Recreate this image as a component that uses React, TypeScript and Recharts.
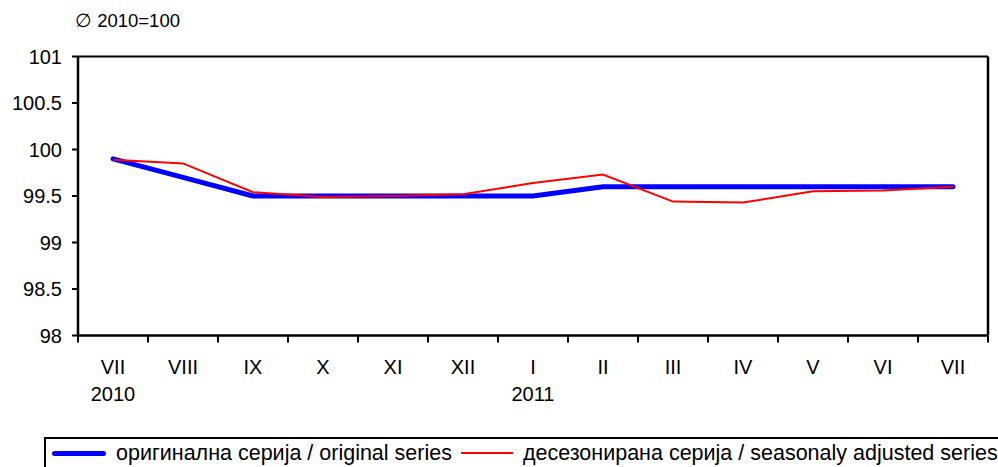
import React from "react";
import { LineChart, Line, XAxis, YAxis, CartesianGrid, ReferenceLine } from "recharts";

const months = ["VII", "VIII", "IX", "X", "XI", "XII", "I", "II", "III", "IV", "V", "VI", "VII"];
const years = ["2010", "", "", "", "", "", "2011", "", "", "", "", "", ""];
const original = [99.9, 99.7, 99.5, 99.5, 99.5, 99.5, 99.5, 99.6, 99.6, 99.6, 99.6, 99.6, 99.6];
const adjusted = [99.89, 99.85, 99.54, 99.49, 99.5, 99.52, 99.64, 99.73, 99.44, 99.43, 99.55, 99.56, 99.6];
const yTicks = [98, 98.5, 99, 99.5, 100, 100.5, 101];
const seriesNames = ["оригинална серија / original series", "десезонирана серија / seasonaly adjusted series"];
const xTicks = months.map((_, i) => i);

const data = months.map((m, i) => ({ x: i, original: original[i], adjusted: adjusted[i] }));

const W = 998;
const H = 467;
const MARGIN = { top: 56.5, right: 0, bottom: 0, left: 0 };
const Y_W = 78;
const R_W = 10;
const PLOT_W = W - MARGIN.left - MARGIN.right - Y_W - R_W;
const HALF = PLOT_W / months.length / 2;
const FONT = "'Liberation Sans', Arial, sans-serif";

const XTick = (props: any) => {
  const { x, y, payload } = props;
  const i = payload.value as number;
  const last = i === months.length - 1;
  return (
    <g>
      <line x1={x - HALF} x2={x - HALF} y1={y} y2={y + 7} stroke="#000" strokeWidth={2} />
      {last && <line x1={x + HALF} x2={x + HALF} y1={y} y2={y + 7} stroke="#000" strokeWidth={2} />}
      <text x={x} y={y + 38} textAnchor="middle" fontSize={20} fontFamily={FONT} fill="#000">
        {months[i]}
      </text>
      {years[i] && (
        <text x={x} y={y + 65} textAnchor="middle" fontSize={20} fontFamily={FONT} fill="#000">
          {years[i]}
        </text>
      )}
    </g>
  );
};

export default function App() {
  return (
    <div style={{ position: "absolute", left: 0, top: 0, width: W, height: H, background: "#fff", overflow: "hidden" }}>
      <div style={{ position: "absolute", left: 75, top: 10, fontFamily: FONT, fontSize: 18.5, color: "#000", lineHeight: "22px" }}>
        ∅ 2010=100
      </div>
      <LineChart width={W} height={H} data={data} margin={MARGIN}>
        <CartesianGrid vertical={false} stroke="#000" strokeWidth={1} horizontalValues={yTicks} />
        <XAxis
          dataKey="x"
          type="number"
          domain={[-0.5, months.length - 0.5]}
          ticks={xTicks}
          interval={0}
          tickLine={false}
          tickSize={0}
          tickMargin={0}
          height={H - 335.5 - 0}
          axisLine={{ stroke: "#000", strokeWidth: 2.5 }}
          tick={<XTick />}
        />
        <YAxis
          yAxisId="left"
          domain={[98, 101]}
          ticks={yTicks}
          width={Y_W}
          tickSize={6}
          tickMargin={10}
          interval={0}
          axisLine={{ stroke: "#000", strokeWidth: 2.5 }}
          tickLine={{ stroke: "#000", strokeWidth: 2 }}
          tick={{ fontSize: 20, fontFamily: FONT, fill: "#000" }}
        />
        <YAxis
          yAxisId="right"
          orientation="right"
          domain={[98, 101]}
          width={R_W}
          tick={false}
          tickLine={false}
          axisLine={{ stroke: "#000", strokeWidth: 2.5 }}
        />
        <ReferenceLine yAxisId="left" y={101} stroke="#000" strokeWidth={2} />
        <Line
          yAxisId="left"
          type="linear"
          dataKey="original"
          stroke="#0000FF"
          strokeWidth={5}
          strokeLinecap="round"
          strokeLinejoin="round"
          dot={false}
          isAnimationActive={false}
        />
        <Line
          yAxisId="left"
          type="linear"
          dataKey="adjusted"
          stroke="#FF0000"
          strokeWidth={2}
          dot={false}
          isAnimationActive={false}
        />
      </LineChart>
      <div
        style={{
          position: "absolute",
          left: 44,
          top: 437,
          width: 1000,
          height: 40,
          border: "2px solid #000",
          boxSizing: "border-box",
          fontFamily: FONT,
          fontSize: 21.5,
          color: "#000",
        }}
      >
        <div style={{ position: "absolute", left: 6, top: 12, width: 54, height: 5, background: "#0000FF", borderRadius: 3 }} />
        <div style={{ position: "absolute", left: 70, top: 2, whiteSpace: "nowrap", lineHeight: "24px" }}>{seriesNames[0]}</div>
        <div style={{ position: "absolute", left: 415, top: 13, width: 52, height: 2, background: "#FF0000" }} />
        <div style={{ position: "absolute", left: 477, top: 2, whiteSpace: "nowrap", lineHeight: "24px" }}>{seriesNames[1]}</div>
      </div>
    </div>
  );
}
